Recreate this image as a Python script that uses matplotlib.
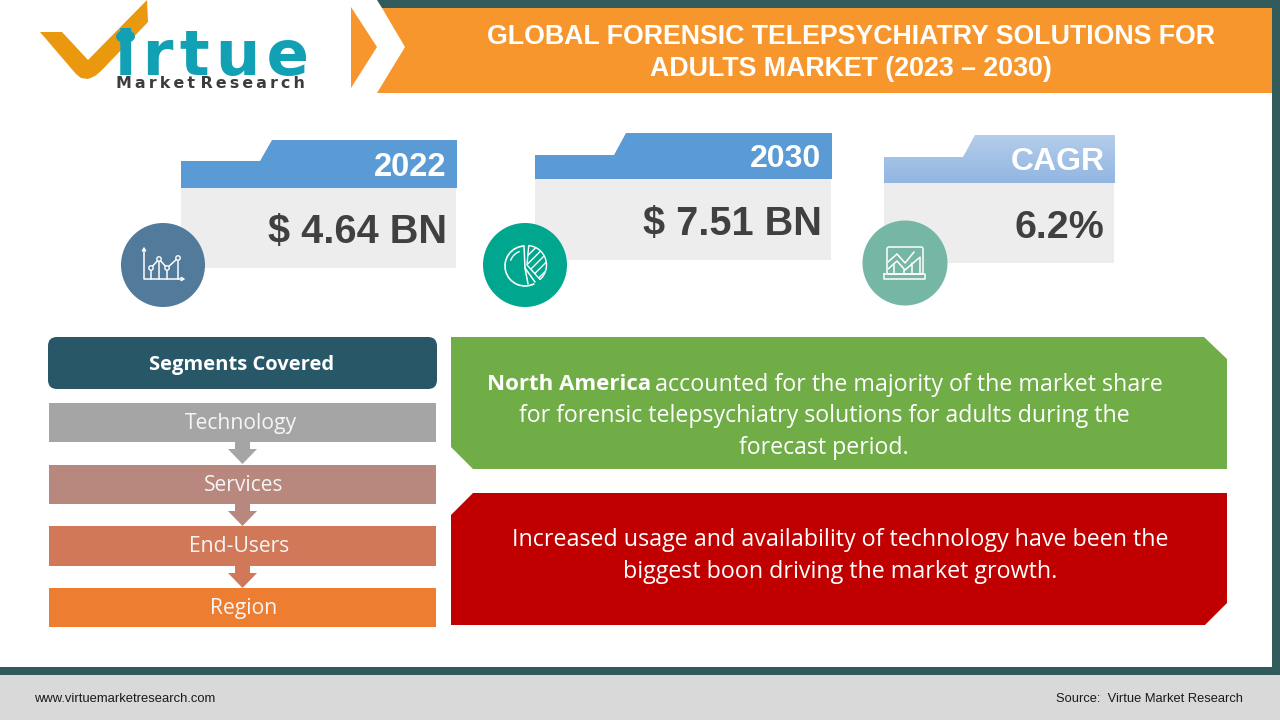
#!/usr/bin/env python
import matplotlib
matplotlib.use("Agg")
import matplotlib.pyplot as plt
import numpy as np
from matplotlib.patches import Polygon, Rectangle, Circle, Ellipse, FancyBboxPatch, Wedge, Arc

ARIAL = "Liberation Sans"
BODY = "Open Sans"
HAIR = "\u200a"
THIN = "\u2009"

title_lines = ["GLOBAL FORENSIC TELEPSYCHIATRY SOLUTIONS FOR", "ADULTS MARKET (2023 – 2030)"]
card_labels = ["2022", "2030", "CAGR"]
card_values = ["$ 4.64 BN", "$ 7.51 BN", "6.2%"]
segments = ["Technology", "Services", "End-Users", "Region"]
segment_colors = ["#a5a5a5", "#b8877d", "#d07858", "#ed7d31"]
green_lines = ["for forensic telepsychiatry solutions for adults during the", "forecast period."]
red_lines = ["Increased usage and availability of technology have been the",
             "biggest boon driving the market growth."]
footer_left = "www.virtuemarketresearch.com"
footer_right = "Source:  Virtue Market Research"

plt.rcParams["hatch.linewidth"] = 1.0
plt.rcParams["hatch.color"] = "white"

fig = plt.figure(figsize=(12.8, 7.2), dpi=100)
ax = fig.add_axes([0, 0, 1, 1])


def rect(x0, y0, x1, y1, color, z=1):
    ax.add_patch(Rectangle((x0, y0), x1 - x0, y1 - y0, fc=color, ec="none", zorder=z))


def poly(pts, color, z=1):
    p = Polygon(pts, closed=True, fc=color, ec="none", lw=0, zorder=z)
    ax.add_patch(p)
    return p


def line(xs, ys, z=6, lw=1.1):
    ax.plot(xs, ys, color="white", lw=lw, zorder=z, solid_capstyle="round")


# frame and footer
DARK = "#315a5a"
rect(0, 667, 1280, 675, DARK)
rect(1272, 0, 1280, 675, DARK)
poly([(377, 0), (1280, 0), (1280, 8), (382, 8)], DARK)
rect(0, 675, 1280, 720, "#d9d9d9")
ax.text(34, 699.5, footer_left, family=ARIAL, fontsize=9.4, color="#1a1a1a", ha="left", va="center")
ax.text(1243, 699.5, footer_right, family=ARIAL, fontsize=9.3, color="#1a1a1a", ha="right", va="center")

# header
ORANGE = "#f7962d"
poly([(377, 93), (405, 47), (382, 8), (1272, 8), (1272, 93)], ORANGE)
poly([(351, 7), (377, 47), (351, 88)], ORANGE)
for i, t in enumerate(title_lines):
    ax.text(851, 37.5 + i * 32, t, family=ARIAL, weight="bold", fontsize=19.3, color="white", ha="center", va="center")

# logo
poly([(40, 32), (62, 32), (88, 60), (147, 0), (148, 22), (101, 71), (95, 76), (88, 79), (81, 78), (76, 74)], "#ea980d")
ax.text(115, 75, HAIR.join("irtue"), family="DejaVu Sans", weight="bold", fontsize=45, color="#12a0b4",
        ha="left", va="baseline", zorder=2)
ax.add_patch(Ellipse((125.5, 36.5), 19, 13, fc="#12a0b4", ec="none", zorder=3))
ax.text(116, 87.5, THIN.join("Market") + " " + THIN.join("Research"), family="DejaVu Sans", weight="bold",
        fontsize=11.4, color="#3c3c3c", ha="left", va="baseline", zorder=3)

# cards: x0, top of tab, top of low part, band bottom, body bottom, x1
card_geo = [(181, 140, 161, 188, 268, 457),
            (535, 133, 155, 179, 260, 832),
            (884, 135, 157, 183, 263, 1115)]
label_sizes = [23.5, 23, 23]
value_sizes = [28.6, 28.6, 28.4]
card_colors = ["#5b9bd5", "#5b9bd5", None]
for (x0, t, m, b, e, x1), c, lab, val, ls, vs in zip(card_geo, card_colors, card_labels, card_values, label_sizes, value_sizes):
    rect(x0, b, x1 - 1, e, "#ededed")
    pts = [(x0, m), (x0 + 79, m), (x0 + 91, t), (x1, t), (x1, b), (x0, b)]
    if c is not None:
        poly(pts, c)
    else:
        # the CAGR band fades from light to mid blue
        shape = poly(pts, "none")
        ramp = np.linspace(0, 1, 64).reshape(-1, 1, 1)
        top = np.array([0xb4, 0xcd, 0xea]).reshape(1, 1, 3) / 255
        bottom = np.array([0x92, 0xb6, 0xe2]).reshape(1, 1, 3) / 255
        img = ax.imshow(top + (bottom - top) * ramp, extent=(x0, x1, b, t), aspect="auto", zorder=1)
        img.set_clip_path(shape)
    ax.text(x1 - 10.5, (t + b) / 2 + 3, lab, family=ARIAL, weight="bold", fontsize=ls, color="white", ha="right", va="center", zorder=3)
    ax.text(x1 - 10.5, (b + e) / 2 + 4.5, val, family=ARIAL, weight="bold", fontsize=vs, color="#404040", ha="right", va="center", zorder=3)

# icon circles
ax.add_patch(Circle((163, 265), 42, fc="#527a9a", ec="none", zorder=4))
ax.add_patch(Circle((525, 265), 42, fc="#00a78e", ec="none", zorder=4))
ax.add_patch(Circle((905, 263), 42.5, fc="#76b6a5", ec="none", zorder=4))

# line chart icon
line([144, 144, 183], [249, 279, 279])
line([142.5, 144, 145.5], [251, 248, 251])
line([181, 184, 181], [277.5, 279, 280.5])
trend_x = [151, 159, 167, 178]
trend_y = [268, 259, 268, 258]
line(trend_x, trend_y)
for px, py in zip(trend_x, trend_y):
    ax.add_patch(Circle((px, py), 2.2, fc="#527a9a", ec="white", lw=1.0, zorder=7))
    line([px, px], [py + 2.2, 279])

# pie icon
ax.add_patch(Arc((525, 266), 40, 40, theta1=62, theta2=268, ec="white", lw=1.2, zorder=6))
ax.add_patch(Arc((525, 266), 31, 31, theta1=200, theta2=250, ec="white", lw=1.0, zorder=6))
line([524, 525, 535], [246, 268, 282])
line([525, 528], [268, 284])
ax.add_patch(Wedge((527, 265), 19.5, -85, 48, fc="none", ec="white", lw=1.0, hatch="////", zorder=6))

# laptop icon
ax.add_patch(FancyBboxPatch((887, 247), 36, 27, boxstyle="round,pad=0,rounding_size=2", fc="none", ec="white", lw=1.1, zorder=6))
line([884, 925, 925, 884, 884], [274, 274, 278.5, 278.5, 274])
line([888, 897, 905, 914], [262, 254, 263, 252])
line([888, 897, 905, 919], [269, 261, 270, 258])
line([894, 894], [264, 274])
line([904, 904], [270, 274])
line([912, 912], [263, 274])
line([920, 920], [257, 274])

# segments
ax.add_patch(FancyBboxPatch((48, 337), 389, 52, boxstyle="round,pad=0,rounding_size=9", fc="#285768", ec="none", zorder=2))
ax.text(241.5, 365, "Segments Covered", family=BODY, weight="bold", fontsize=14.5, color="white", ha="center", va="center", zorder=3)

seg_tops = [403, 465, 526, 588]
seg_bottoms = [442, 504, 566, 627]
seg_centers = [241, 243.5, 239, 244]
for i, name in enumerate(segments):
    rect(49, seg_tops[i], 436, seg_bottoms[i], segment_colors[i], z=2)
    ax.text(seg_centers[i], (seg_tops[i] + seg_bottoms[i]) / 2 + 1, name, family=BODY, fontsize=15.2, color="#f5f5f5", ha="center", va="center", zorder=3)
    if i < 3:
        b = seg_bottoms[i]
        poly([(235, b), (250, b), (250, b + 7), (257, b + 7), (242.5, b + 22), (228, b + 7), (235, b + 7)], segment_colors[i], z=1)

# message boxes
poly([(451, 337), (1204, 337), (1227, 359), (1227, 469), (473, 469), (451, 447)], "#70ad47")
poly([(473, 493), (1227, 493), (1227, 603), (1205, 625), (451, 625), (451, 515)], "#c00000")

ax.set_xlim(0, 1280)
ax.set_ylim(720, 0)
ax.axis("off")

# first line of the green box has a bold lead-in
lead = ax.text(487, 385, "North America", family=BODY, weight="bold", fontsize=16, color="white", ha="left", va="center", zorder=3)
fig.canvas.draw()
lead_end = lead.get_window_extent().x1
ax.text(lead_end + 4, 385, "accounted for the majority of the market share", family=BODY, fontsize=16.75, color="white", ha="left", va="center", zorder=3)
for i, t in enumerate(green_lines):
    ax.text(824, 416.5 + i * 31.5, t, family=BODY, fontsize=16.7, color="white", ha="center", va="center", zorder=3)
for i, t in enumerate(red_lines):
    ax.text(840, 539.5 + i * 32, t, family=BODY, fontsize=16.75, color="white", ha="center", va="center", zorder=3)

fig.savefig("out.png", dpi=100)
